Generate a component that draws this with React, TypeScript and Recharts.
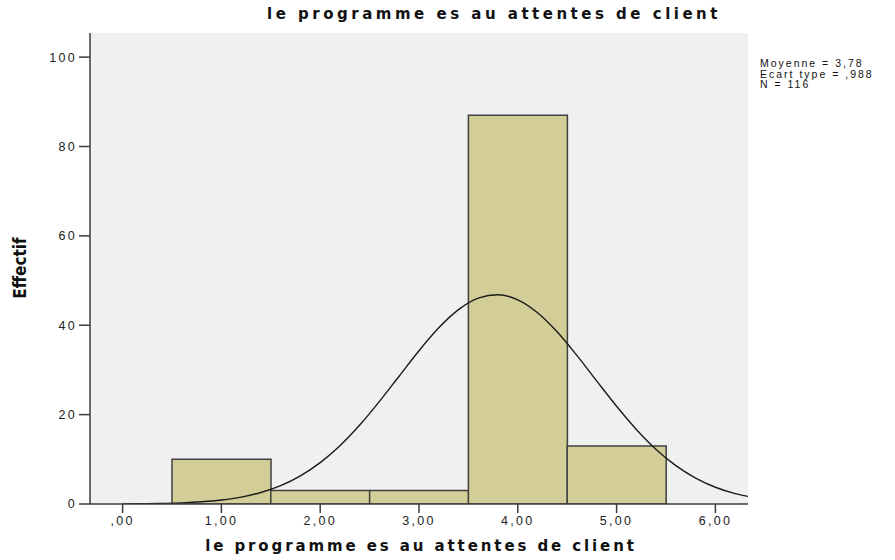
import React from "react";
import {
  Bar,
  ComposedChart,
  Line,
  XAxis,
  YAxis,
  CartesianGrid,
} from "recharts";

// histogram bins (centre of bin, count)
const binCenters = [1, 2, 3, 4, 5];
const binCounts = [10, 3, 3, 87, 13];

// normal curve
const curveX = [
  0, 0.2, 0.4, 0.6, 0.8, 1.0, 1.2, 1.4, 1.6, 1.8, 2.0, 2.2, 2.4, 2.6, 2.8, 3.0,
  3.2, 3.4, 3.6, 3.8, 4.0, 4.2, 4.4, 4.6, 4.8, 5.0, 5.2, 5.4, 5.6, 5.8, 6.0,
  6.2, 6.33,
];
const curveY = [
  0.03, 0.07, 0.14, 0.26, 0.5, 0.9, 1.55, 2.58, 4.11, 6.29, 9.25, 13.04,
  17.66, 22.96, 28.64, 34.3, 39.43, 43.5, 46.07, 46.83, 45.69, 42.79, 38.47,
  33.19, 27.49, 21.86, 16.68, 12.21, 8.59, 5.8, 3.75, 2.33, 1.7,
];

const xTicks = [0, 1, 2, 3, 4, 5, 6];
const yTicks = [0, 20, 40, 60, 80, 100];

const statLines = ["Moyenne = 3,78", "Ecart type = ,988", "N = 116"];
const title = "le programme es au attentes de client";

const barData = binCenters.map((x, i) => ({ x, count: binCounts[i] }));
const curveData = curveX.map((x, i) => ({ x, curve: curveY[i] }));

const X_DOMAIN: [number, number] = [-0.33, 6.33];
const Y_DOMAIN: [number, number] = [0, 105.4];

const FRAME = "#3c3c3c";
const tickStyle = {
  fontFamily: "'Liberation Sans', Arial, sans-serif",
  fontSize: 12.5,
  fill: "#222",
  letterSpacing: 2.3,
};

const fmtX = (v: number) => (v === 0 ? ",00" : v.toFixed(2).replace(".", ","));

export default function App() {
  return (
    <div
      style={{
        position: "absolute",
        left: 0,
        top: 0,
        width: 895,
        height: 560,
        background: "#fff",
      }}
    >
      <ComposedChart
        width={895}
        height={560}
        data={barData}
        margin={{ top: 33, right: 147, left: 30, bottom: 26 }}
        barCategoryGap={0}
        barGap={0}
      >
        <CartesianGrid
          fill="#f0f0f0"
          horizontal={false}
          vertical={false}
          xAxisId="x"
          yAxisId="y"
        />
        <XAxis
          xAxisId="x"
          dataKey="x"
          type="number"
          domain={X_DOMAIN}
          ticks={xTicks}
          tickFormatter={fmtX}
          allowDataOverflow
          height={30}
          tickSize={9}
          tickMargin={3}
          tick={tickStyle}
          axisLine={{ stroke: FRAME, strokeWidth: 1.5 }}
          tickLine={{ stroke: FRAME, strokeWidth: 1.5 }}
        />
        {/* hidden axis for the bins so their width comes from the bin spacing */}
        <XAxis
          xAxisId="bins"
          dataKey="x"
          type="number"
          domain={X_DOMAIN}
          ticks={xTicks}
          allowDataOverflow
          height={0}
          hide
        />
        <XAxis
          xAxisId="top"
          orientation="top"
          type="number"
          domain={X_DOMAIN}
          height={0}
          tick={false}
          tickLine={false}
          axisLine={{ stroke: FRAME, strokeWidth: 1.5 }}
        />
        <YAxis
          yAxisId="y"
          type="number"
          domain={Y_DOMAIN}
          ticks={yTicks}
          allowDataOverflow
          width={60}
          tickSize={11}
          tickMargin={2}
          tick={tickStyle}
          axisLine={{ stroke: FRAME, strokeWidth: 1.5 }}
          tickLine={{ stroke: FRAME, strokeWidth: 1.5 }}
        />
        <YAxis
          yAxisId="right"
          orientation="right"
          domain={Y_DOMAIN}
          width={0}
          tick={false}
          tickLine={false}
          axisLine={{ stroke: FRAME, strokeWidth: 1.5 }}
        />
        <Bar
          xAxisId="bins"
          yAxisId="y"
          dataKey="count"
          fill="#d3ce98"
          stroke="#404040"
          strokeWidth={1.5}
          isAnimationActive={false}
        />
        <Line
          xAxisId="x"
          yAxisId="y"
          data={curveData}
          dataKey="curve"
          type="monotone"
          stroke="#1a1a1a"
          strokeWidth={1.4}
          dot={false}
          activeDot={false}
          isAnimationActive={false}
        />
      </ComposedChart>

      <div
        style={{
          position: "absolute",
          left: 494,
          top: 5,
          transform: "translateX(-50%)",
          whiteSpace: "nowrap",
          fontFamily: "'DejaVu Sans', sans-serif",
          fontWeight: "bold",
          fontSize: 15,
          letterSpacing: 3.5,
          color: "#111",
        }}
      >
        {title}
      </div>

      <div
        style={{
          position: "absolute",
          left: 421,
          top: 537,
          transform: "translateX(-50%)",
          whiteSpace: "nowrap",
          fontFamily: "'DejaVu Sans', sans-serif",
          fontWeight: "bold",
          fontSize: 15,
          letterSpacing: 2.9,
          color: "#111",
        }}
      >
        {title}
      </div>

      <div
        style={{
          position: "absolute",
          left: 20,
          top: 268,
          transform: "translate(-50%, -50%) rotate(-90deg)",
          whiteSpace: "nowrap",
          fontFamily: "'Liberation Sans Narrow', 'DejaVu Sans Condensed', sans-serif",
          fontStretch: "condensed",
          fontWeight: "bold",
          fontSize: 17,
          color: "#111",
        }}
      >
        Effectif
      </div>

      <div
        style={{
          position: "absolute",
          left: 760,
          top: 58,
          fontFamily: "'Liberation Sans', Arial, sans-serif",
          fontSize: 10.5,
          lineHeight: "10.5px",
          letterSpacing: 2,
          color: "#111",
        }}
      >
        {statLines.map((s) => (
          <div key={s} style={{ height: 10.5, whiteSpace: "nowrap" }}>
            {s}
          </div>
        ))}
      </div>
    </div>
  );
}
